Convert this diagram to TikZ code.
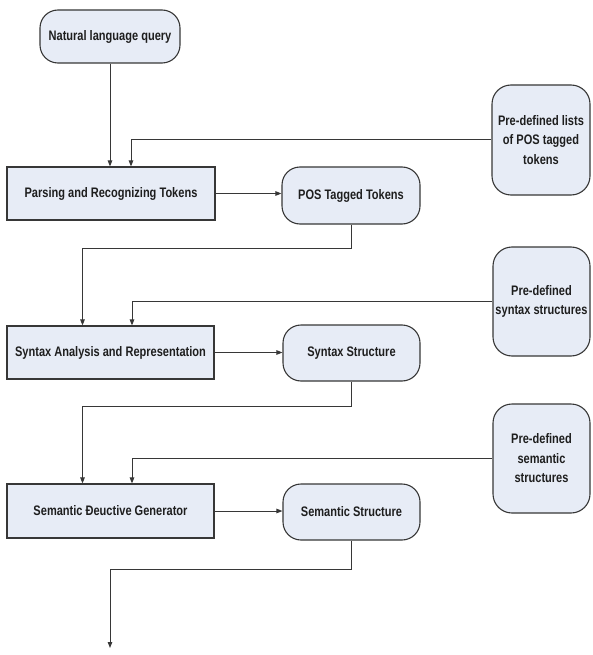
\documentclass[tikz,border=0pt]{standalone}
\usepackage{fontspec}
\setmainfont{Liberation Sans}[FakeStretch=0.8]
\usetikzlibrary{arrows.meta}
\definecolor{boxfill}{RGB}{231,236,246}
\definecolor{edge}{RGB}{55,55,55}
\definecolor{ink}{RGB}{30,30,30}
\begin{document}
\begin{tikzpicture}[x=1pt,y=-1pt,
  base/.style={draw=edge,line width=1.1pt,fill=boxfill,text=ink,
    font=\fontsize{13.8}{19.5}\selectfont\bfseries,align=center,inner sep=2pt},
  procbox/.style={base,rectangle},
  datbox/.style={base,rounded corners=18pt},
  refbox/.style={base,rounded corners=19pt},
  arr/.style={draw=edge,line width=1pt,-{Triangle[length=6pt,width=4.5pt]}},
  link/.style={draw=edge,line width=1pt}]
\useasboundingbox (0,0) rectangle (592,655);

% process steps
\node[datbox,minimum width=140pt,minimum height=53pt] (nlq) at (110,36.5) {Natural language query};
\node[procbox,minimum width=208pt,minimum height=53pt] (parse) at (111,193.5) {Parsing and Recognizing Tokens};
\node[datbox,minimum width=138pt,minimum height=57pt] (pos) at (351,195.5) {POS Tagged Tokens};
\node[refbox,minimum width=98pt,minimum height=110pt] (lists) at (541,140) {Pre-defined lists\\of POS tagged\\tokens};

\node[procbox,minimum width=207pt,minimum height=53pt] (syn) at (110.5,352.5) {Syntax Analysis and Representation};
\node[datbox,minimum width=137pt,minimum height=56pt] (ss) at (351.5,353) {Syntax Structure};
\node[refbox,minimum width=97pt,minimum height=109pt] (synpre) at (541.5,301.5) {Pre-defined\\syntax structures};

\node[procbox,minimum width=207pt,minimum height=54pt] (sem) at (110.5,511) {Semantic Ɖeuctive Generator};
\node[datbox,minimum width=137pt,minimum height=56pt] (sst) at (351.5,512) {Semantic Structure};
\node[refbox,minimum width=97pt,minimum height=109pt] (sempre) at (541.5,458.5) {Pre-defined\\semantic\\structures};

\coordinate (out) at (110,648);

% connectors
\draw[arr] (nlq.south) -- (nlq.south |- parse.north);
\draw[arr] (lists.west) -| ([xshift=20pt]parse.north);
\draw[arr] (parse.east) -- (parse.east -| pos.west);
\draw[arr] (pos.south) -- ++(0,24) -| ([xshift=-28pt]syn.north);

\draw[arr] (synpre.west) -| ([xshift=21.5pt]syn.north);
\draw[arr] (syn.east) -- (syn.east -| ss.west);
\draw[arr] (ss.south) -- ++(0,25) -| ([xshift=-28pt]sem.north);

\draw[arr] (sempre.west) -| ([xshift=21.5pt]sem.north);
\draw[arr] (sem.east) -- (sem.east -| sst.west);
\draw[arr] (sst.south) -- ++(0,29) -| (out);
\end{tikzpicture}
\end{document}
